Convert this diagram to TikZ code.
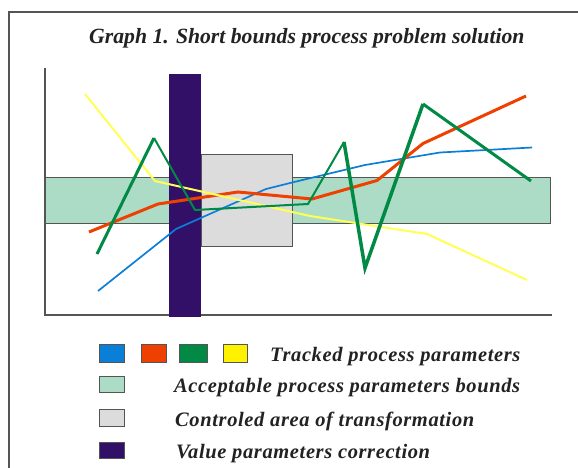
\documentclass[tikz,border=0pt]{standalone}
\usepackage{fontspec}
\setmainfont{Liberation Serif}
\newfontfamily\legfont[LetterSpace=3]{Liberation Serif}
\definecolor{pblue}{HTML}{0A7FD8}
\definecolor{pred}{HTML}{EE4000}
\definecolor{pgreen}{HTML}{008A45}
\definecolor{pyellow}{HTML}{FFFF55}
\definecolor{bandc}{HTML}{ADDCC6}
\definecolor{grayc}{HTML}{DCDCDC}
\definecolor{purplec}{HTML}{321068}
\definecolor{edgec}{HTML}{555555}
\definecolor{txtc}{HTML}{222222}
\begin{document}
\begin{tikzpicture}[x=1pt,y=-1pt,
  frame/.style={draw=edgec,line width=1.3pt},
  box/.style={draw=edgec,line width=1pt},
  series/.style={line join=miter},
  legsq/.style={draw=edgec,line width=0.8pt},
  legtxt/.style={anchor=base west,inner sep=0pt,text=txtc,font=\legfont\fontsize{20.5}{20.5}\selectfont\bfseries\itshape}]
\useasboundingbox (0,0) rectangle (578,468);
\fill[white] (0,0) rectangle (578,468);
% outer frame
\draw[frame] (9,468) -- (9,12) -- (578,12);
% title
\node[anchor=base west,inner sep=0pt,text=txtc,font=\fontsize{21.7}{21.7}\selectfont\bfseries\itshape] (title) at (89,44) {Graph 1. Short bounds process problem solution};
% band and controlled area
\filldraw[box,fill=bandc] (45,177) rectangle (550,223);
\filldraw[box,fill=grayc] (201,154) rectangle (292,246);
% axes
\draw[frame] (45,68) -- (45,315) -- (552,315);
% purple bar
\fill[purplec] (169,74) rectangle (201,317);
% series
\draw[series,pblue,line width=1.7pt] (98,291) -- (176,229) -- (266,189) -- (290,183) -- (365,165) -- (440,152.5) -- (532,147.5);
\draw[series,pred,line width=3pt] (89,232) -- (158,204) -- (238,192) -- (312,199) -- (377,180.5) -- (423,143.5) -- (526,96);
\draw[series,pyellow,line width=2pt] (85,94) -- (155,181) -- (310,216) -- (427,234) -- (527,280);
\draw[pgreen,line width=3pt] (97,254) -- (154,138);
\draw[series,pgreen,line width=2pt] (154,138) -- (195,210) -- (308,204) -- (344,142);
\draw[series,pgreen,line width=3.5pt] (344,142) -- (365,268) -- (423,104);
\draw[pgreen,line width=3pt] (423,104) -- (531,181);
% legend
\filldraw[legsq,fill=pblue] (99,344) rectangle (124,362);
\filldraw[legsq,fill=pred] (141,344) rectangle (166,362);
\filldraw[legsq,fill=pgreen] (179,344) rectangle (207,362);
\filldraw[legsq,fill=yellow] (223,344) rectangle (247,362);
\node[legtxt] (l1) at (270,361.5) {Tracked process parameters};
\filldraw[legsq,fill=bandc] (99,376) rectangle (124,392);
\node[legtxt] (l2) at (174,392.5) {Acceptable process parameters bounds};
\filldraw[legsq,fill=grayc] (99,409) rectangle (124,426);
\node[legtxt] (l3) at (175,426) {Controled area of transformation};
\filldraw[legsq,fill=purplec] (99,442) rectangle (124,458);
\node[legtxt] (l4) at (176,458) {Value parameters correction};
\end{tikzpicture}
\end{document}
